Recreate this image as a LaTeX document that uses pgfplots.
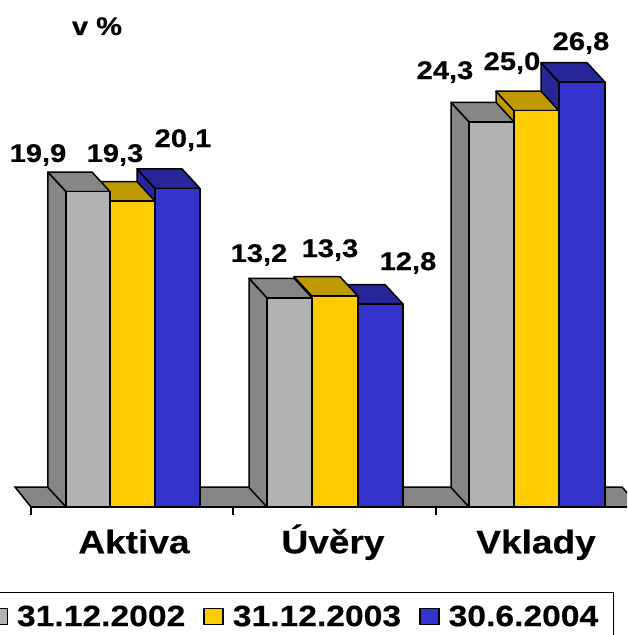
\documentclass[border=0pt]{standalone}
\usepackage{pgfplots}
\pgfplotsset{compat=1.18}
\usepackage{fontspec}
\setmainfont[FakeStretch=1.14,BoldFeatures={FakeStretch=1.14,FakeBold=0.35}]{Liberation Sans}
\definecolor{gfront}{HTML}{B2B2B2}
\definecolor{gside}{HTML}{868686}
\definecolor{yfront}{HTML}{FFCC00}
\definecolor{ytop}{HTML}{BF9900}
\definecolor{bfront}{HTML}{3333CC}
\definecolor{btop}{HTML}{262699}
% #1 left x, #2 right x, #3 value, #4 value + depth, #5 side/top colour, #6 front colour
\newcommand{\threedbar}[6]{%
  \pgfmathsetmacro{\xa}{#1-18}\pgfmathsetmacro{\xb}{#2-18}%
  \edef\doit{\noexpand\addplot[fill=#5,draw=black,line width=1.5pt,line join=round,forget plot] coordinates {(#1,0) (\xa,1.23) (\xa,#4) (#1,#3)} -- cycle;
  \noexpand\addplot[fill=#5,draw=black,line width=1.5pt,line join=round,forget plot] coordinates {(#1,#3) (#2,#3) (\xb,#4) (\xa,#4)} -- cycle;
  \noexpand\addplot[fill=#6,draw=black,line width=1.5pt,line join=round,forget plot] coordinates {(#1,0) (#2,0) (#2,#3) (#1,#3)} -- cycle;}%
  \doit}
\begin{document}
\begin{tikzpicture}[x=1pt,y=1pt]
\useasboundingbox (0,0) rectangle (627,635);
\clip (0,0) rectangle (627,635);
\begin{axis}[
  at={(0,0)},anchor=south west,
  scale only axis,width=627pt,height=635pt,
  xmin=0,xmax=627,ymin=-8.076,ymax=31.987,
  axis x line=middle,axis y line=none,
  axis line style={draw=none},
  no markers,clip=true,
  tick align=outside,
  xtick={134,333,536},
  xticklabels={Aktiva,Úvěry,Vklady},
  xtick style={draw=none},
  x tick label style={anchor=base,yshift=-42pt,font=\bfseries\fontsize{32.5}{36}\selectfont},
  legend columns=3,
  legend cell align=left,
  legend style={at={(axis cs:614,-5.35)},anchor=north east,draw=black,line width=1.5pt,fill=white,
    font=\bfseries\fontsize{29.5}{34}\selectfont,
    inner xsep=13pt,inner ysep=11pt,
    /tikz/every even column/.append style={column sep=16pt},
    /tikz/every odd column/.append style={column sep=7pt}},
  legend image code/.code={\draw[#1,line width=1.5pt] (0pt,-8pt) rectangle (19pt,8pt);},
]
\addlegendimage{fill=gfront,draw=black}
\addlegendentry{31.12.2002}
\addlegendimage{fill=yfront,draw=black}
\addlegendentry{31.12.2003}
\addlegendimage{fill=bfront,draw=black}
\addlegendentry{30.6.2004}
% floor
\addplot[fill=gside,draw=black,line width=1.5pt,forget plot] coordinates {(31,0) (15,1.26) (622,1.26) (640,0)} -- cycle;
\addplot[draw=black,line width=1.5pt,forget plot] coordinates {(31,0) (627,0)};
% tick marks between the groups
\addplot[ycomb,draw=black,line width=1.5pt,forget plot] coordinates {(31,-0.5) (233,-0.5) (436,-0.5)};
% Aktiva
\threedbar{155}{200}{20.1}{21.33}{btop}{bfront}
\threedbar{110}{155}{19.3}{20.53}{ytop}{yfront}
\threedbar{66}{110}{19.9}{21.13}{gside}{gfront}
% Uvery
\threedbar{358}{403}{12.8}{14.03}{btop}{bfront}
\threedbar{312}{358}{13.3}{14.53}{ytop}{yfront}
\threedbar{267}{312}{13.2}{14.43}{gside}{gfront}
% Vklady
\threedbar{559}{605}{26.8}{28.03}{btop}{bfront}
\threedbar{514}{559}{25.0}{26.23}{ytop}{yfront}
\threedbar{469}{514}{24.3}{25.53}{gside}{gfront}
% labels
\begin{scope}[every node/.style={anchor=base,font=\bfseries\fontsize{25.5}{30}\selectfont,inner sep=0pt}]
\node at (axis cs:38,21.77) {19,9};
\node at (axis cs:115,21.77) {19,3};
\node at (axis cs:183,22.71) {20,1};
\node at (axis cs:259,15.46) {13,2};
\node at (axis cs:330,15.77) {13,3};
\node at (axis cs:408,14.95) {12,8};
\node at (axis cs:445,27.0) {24,3};
\node at (axis cs:512,27.57) {25,0};
\node at (axis cs:581,28.83) {26,8};
\node at (axis cs:97,29.78) {v \%};
\end{scope}
\end{axis}
\end{tikzpicture}
\end{document}
